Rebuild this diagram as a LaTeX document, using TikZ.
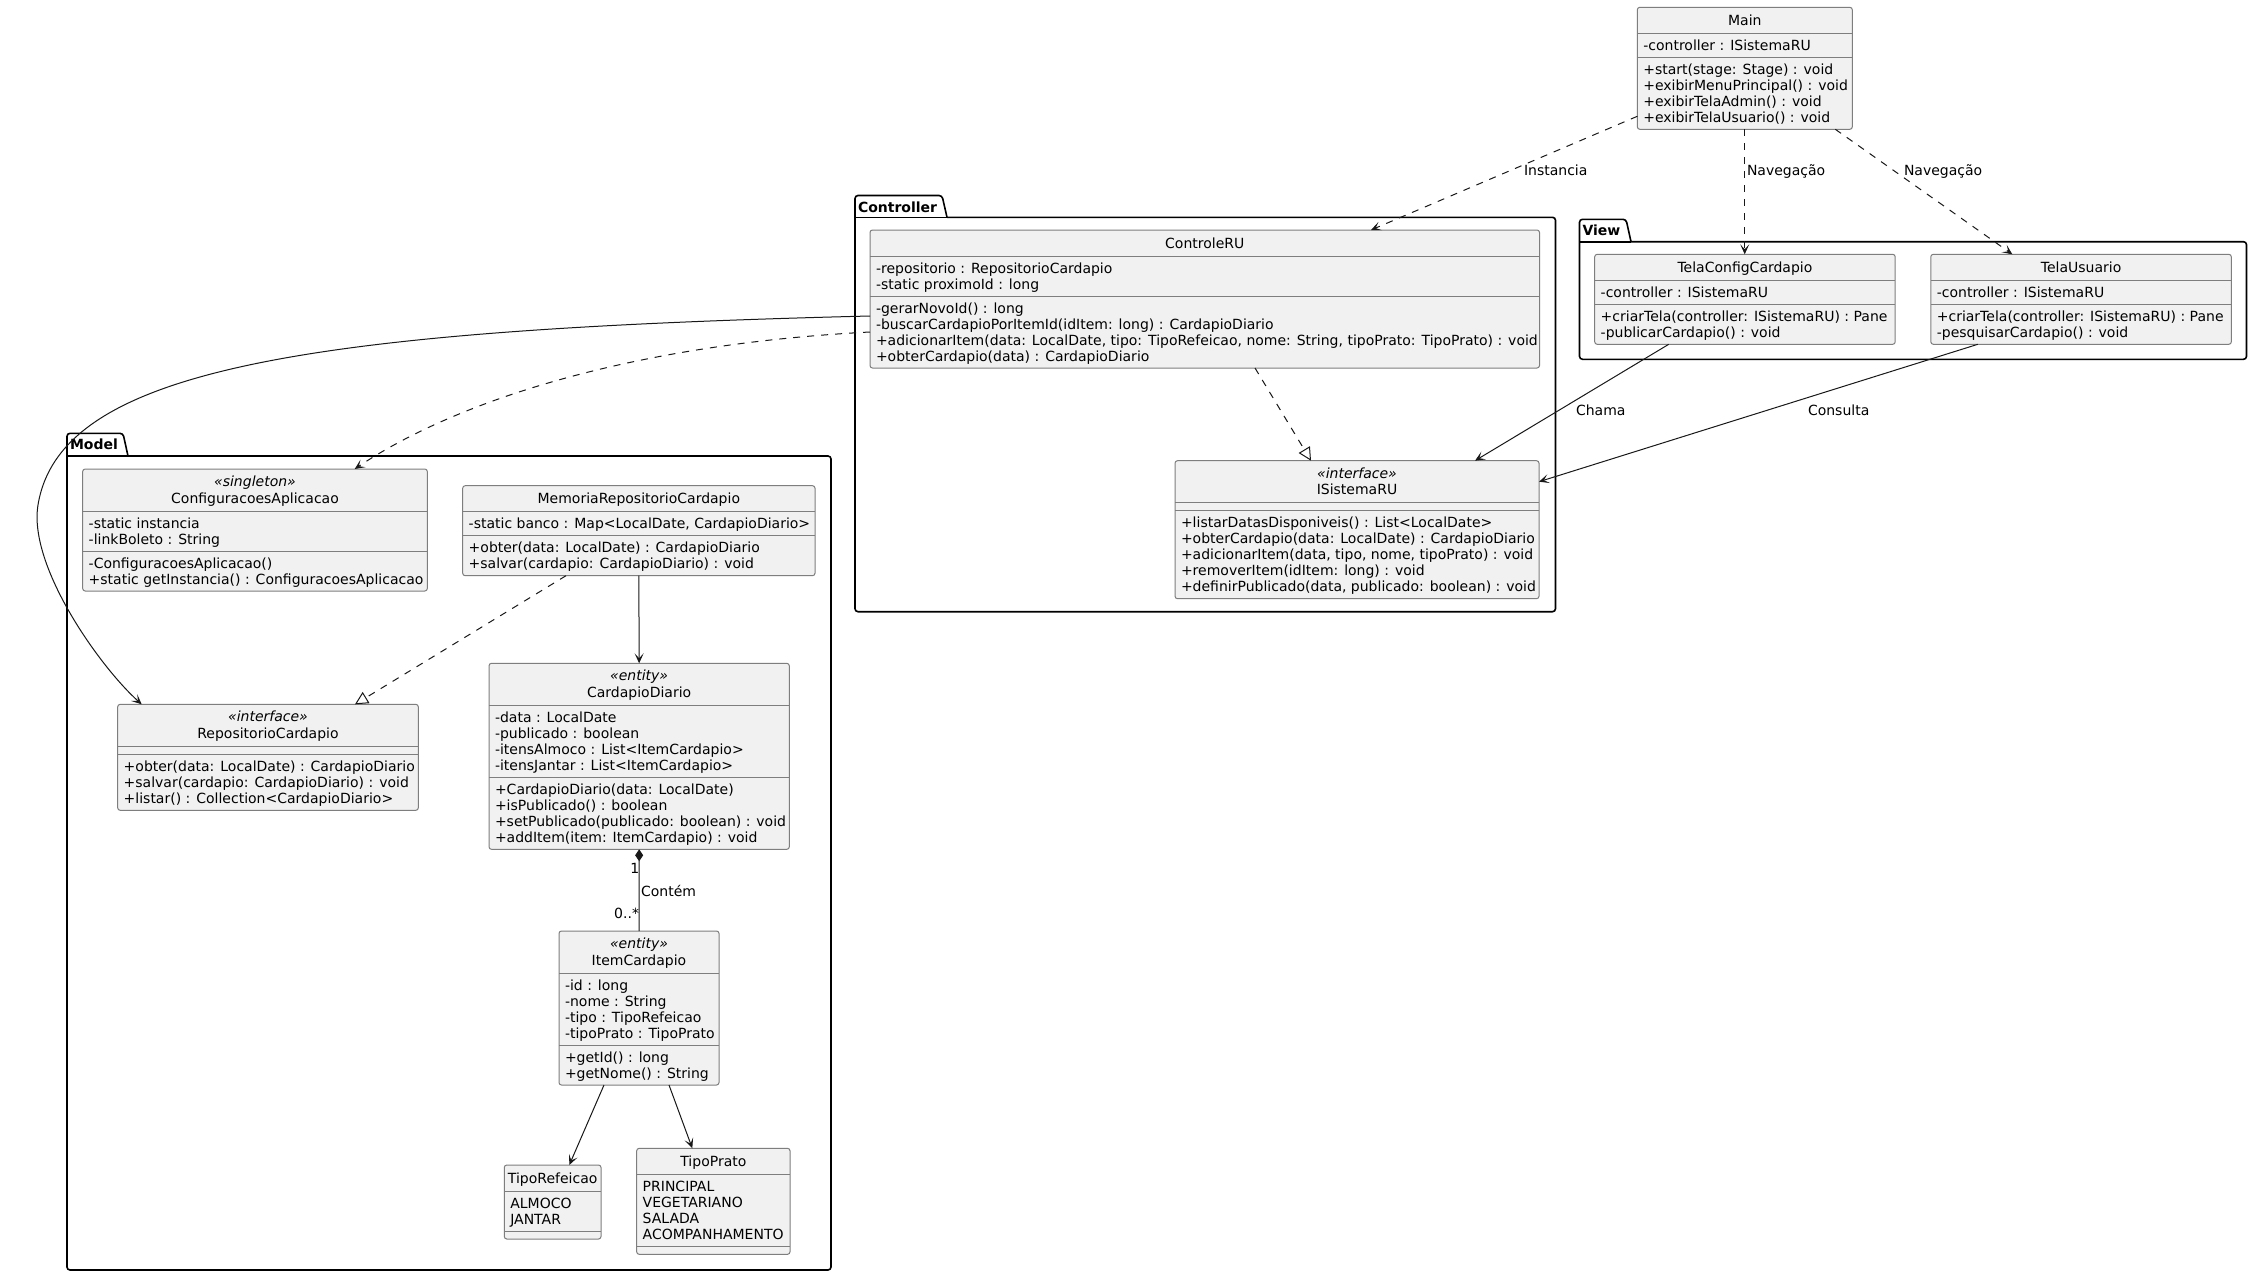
\documentclass[tikz,border=0pt]{standalone}
\usepackage{fontspec}
\setmainfont{DejaVu Sans}
\usetikzlibrary{arrows.meta,calc}

\definecolor{boxfill}{HTML}{F1F1F1}
\definecolor{boxline}{HTML}{7E7E7E}
\definecolor{conn}{HTML}{181818}

\newcommand\cntitems[2]{%
  \gdef#1{0}%
  \def\cnttmp{#2}%
  \ifx\cnttmp\empty\else
    \foreach \cntz in {#2}{\pgfmathtruncatemacro\cntq{#1+1}\global\let#1\cntq}%
  \fi}

% #1 name, #2 left, #3 right, #4 top, #5 stereotype, #6 title, #7 attributes, #8 methods
\newcommand\umlclass[8]{%
  \cntitems\nAttr{#7}%
  \cntitems\nMeth{#8}%
  \def\stmp{#5}%
  \ifx\stmp\empty\def\hTitle{26}\else\def\hTitle{42}\fi
  \pgfmathsetmacro\sepA{#4+\hTitle}%
  \pgfmathsetmacro\sepB{\sepA+16*\nAttr+8}%
  \pgfmathsetmacro\clsBot{\sepB+16*\nMeth+8}%
  \pgfmathsetmacro\clsW{#3-#2}%
  \pgfmathsetmacro\clsH{\clsBot-#4}%
  \pgfmathsetmacro\clsX{(#2+#3)/2}%
  \pgfmathsetmacro\clsY{(#4+\clsBot)/2}%
  \node[classbox, minimum width=\clsW pt, minimum height=\clsH pt] (#1) at (\clsX,\clsY) {};
  \draw[boxsep] (#2,\sepA) -- (#3,\sepA);
  \draw[boxsep] (#2,\sepB) -- (#3,\sepB);
  \ifx\stmp\empty
    \node[txt] (#1-title) at (\clsX,#4+13) {#6};
  \else
    \node[txt] (#1-stereo) at (\clsX,#4+12.5) {\itshape «#5»};
    \node[txt] (#1-title) at (\clsX,#4+29) {#6};
  \fi
  \ifnum\nAttr>0
    \foreach \clsitem [count=\ci] in {#7} {\node[txt,anchor=west] (#1-a\ci) at (#2+6,\sepA+12+16*\ci-16) {\clsitem};}
  \fi
  \ifnum\nMeth>0
    \foreach \clsitem [count=\ci] in {#8} {\node[txt,anchor=west] (#1-m\ci) at (#2+6,\sepB+12+16*\ci-16) {\clsitem};}
  \fi
}

% #1 name, #2 label, #3 left, #4 tab top, #5 body top, #6 right, #7 bottom, #8 tab right
\newcommand\umlpackage[8]{%
  \draw[pkg] (#8+5,#5) -- (#6,#5) -- (#6,#7) -- (#3,#7) -- (#3,#4) -- (#8,#4) -- (#8+5,#5);
  \draw[pkg, rounded corners=0pt] (#3,#5) -- (#8+5,#5);
  \node[txt, anchor=west, font=\fontsize{14pt}{16pt}\selectfont\bfseries] (#1) at (#3+3,#4+11.5) {#2};
}

\begin{document}
\begin{tikzpicture}[x=1pt,y=-1pt,
  txt/.style={inner sep=0pt, outer sep=0pt, text height=12pt, text depth=2pt, font=\fontsize{14pt}{16pt}\selectfont, text=black},
  classbox/.style={draw=boxline, fill=boxfill, line width=1pt, rounded corners=2.5pt, inner sep=0pt, outer sep=0pt},
  boxsep/.style={draw=boxline, line width=1pt},
  pkg/.style={draw=black, line width=1.6pt, rounded corners=3pt},
  assoc/.style={draw=conn, line width=1pt, -{Stealth[length=10pt,width=9pt,inset=5pt]}},
  dep/.style={assoc, dash pattern=on 7pt off 7pt},
  realize/.style={draw=conn, line width=1pt, dash pattern=on 7pt off 7pt, -{Triangle[open, length=13pt, width=13pt, fill=white]}},
  compose/.style={draw=conn, line width=1pt, {Diamond[length=12pt, width=8pt]}-}
]
\fill[white] (0,0) rectangle (2253,1277);
\useasboundingbox (0,0) rectangle (2253,1277);

% packages
\umlpackage{pkgController}{Controller}{855}{195.5}{217.3}{1555.5}{611.7}{942}
\umlpackage{pkgView}{View}{1579.5}{219.3}{241.7}{2246.5}{359.3}{1626}
\umlpackage{pkgModel}{Model}{67}{433.3}{456}{831}{1270}{123}

% classes
\umlclass{Main}{1637.3}{1852.3}{7.3}{}{Main}
  {{-controller : ISistemaRU}}
  {{+start(stage: Stage) : void},{+exibirMenuPrincipal() : void},{+exibirTelaAdmin() : void},{+exibirTelaUsuario() : void}}

\umlclass{ControleRU}{870}{1539.5}{230}{}{ControleRU}
  {{-repositorio : RepositorioCardapio},{-static proximoId : long}}
  {{-gerarNovoId() : long},{-buscarCardapioPorItemId(idItem: long) : CardapioDiario},{+adicionarItem(data: LocalDate, tipo: TipoRefeicao, nome: String, tipoPrato: TipoPrato) : void},{+obterCardapio(data) : CardapioDiario}}

\umlclass{ISistemaRU}{1175}{1539}{460.7}{interface}{ISistemaRU}
  {}
  {{+listarDatasDisponiveis() : List<LocalDate>},{+obterCardapio(data: LocalDate) : CardapioDiario},{+adicionarItem(data, tipo, nome, tipoPrato) : void},{+removerItem(idItem: long) : void},{+definirPublicado(data, publicado: boolean) : void}}

\umlclass{TelaConfigCardapio}{1594.7}{1895.2}{254.3}{}{TelaConfigCardapio}
  {{-controller : ISistemaRU}}
  {{+criarTela(controller: ISistemaRU) : Pane},{-publicarCardapio() : void}}

\umlclass{TelaUsuario}{1930.8}{2231.3}{254.3}{}{TelaUsuario}
  {{-controller : ISistemaRU}}
  {{+criarTela(controller: ISistemaRU) : Pane},{-pesquisarCardapio() : void}}

\umlclass{ConfiguracoesAplicacao}{82.7}{427.3}{469}{singleton}{ConfiguracoesAplicacao}
  {{-static instancia},{-linkBoleto : String}}
  {{-ConfiguracoesAplicacao()},{+static getInstancia() : ConfiguracoesAplicacao}}

\umlclass{MemoriaRepositorioCardapio}{462.7}{815}{485.7}{}{MemoriaRepositorioCardapio}
  {{-static banco : Map<LocalDate, CardapioDiario>}}
  {{+obter(data: LocalDate) : CardapioDiario},{+salvar(cardapio: CardapioDiario) : void}}

\umlclass{RepositorioCardapio}{117.7}{418.3}{704.3}{interface}{RepositorioCardapio}
  {}
  {{+obter(data: LocalDate) : CardapioDiario},{+salvar(cardapio: CardapioDiario) : void},{+listar() : Collection<CardapioDiario>}}

\umlclass{CardapioDiario}{489}{789.3}{663.3}{entity}{CardapioDiario}
  {{-data : LocalDate},{-publicado : boolean},{-itensAlmoco : List<ItemCardapio>},{-itensJantar : List<ItemCardapio>}}
  {{+CardapioDiario(data: LocalDate)},{+isPublicado() : boolean},{+setPublicado(publicado: boolean) : void},{+addItem(item: ItemCardapio) : void}}

\umlclass{ItemCardapio}{559}{719}{931}{entity}{ItemCardapio}
  {{-id : long},{-nome : String},{-tipo : TipoRefeicao},{-tipoPrato : TipoPrato}}
  {{+getId() : long},{+getNome() : String}}

\umlclass{TipoRefeicao}{504.3}{601}{1165}{}{TipoRefeicao}
  {{ALMOCO},{JANTAR}}
  {}

\umlclass{TipoPrato}{636.7}{790}{1148.3}{}{TipoPrato}
  {{PRINCIPAL},{VEGETARIANO},{SALADA},{ACOMPANHAMENTO}}
  {}

% connector end points
\coordinate (mainL) at ($(Main.north west)+(0,109)$);
\coordinate (ctrlTop) at ($(ControleRU.north west)+(501,0)$);
\coordinate (tcTop) at ($(TelaConfigCardapio.north west)+(150,0)$);
\coordinate (mainB2) at ($(Main.south west)+(198,0)$);
\coordinate (tuTop) at ($(TelaUsuario.north west)+(81.5,0)$);
\coordinate (ctrlBot) at ($(ControleRU.south west)+(385,0)$);
\coordinate (isTop1) at ($(ISistemaRU.north west)+(136,0)$);
\coordinate (tcBot) at ($(TelaConfigCardapio.south west)+(74,0)$);
\coordinate (isTop2) at ($(ISistemaRU.north west)+(300,0)$);
\coordinate (tuBot) at ($(TelaUsuario.south west)+(47,0)$);
\coordinate (isRight) at ($(ISistemaRU.north east)+(0,21)$);
\coordinate (ctrlL1) at ($(ControleRU.north west)+(0,86)$);
\coordinate (ctrlL2) at ($(ControleRU.north west)+(0,102)$);
\coordinate (repoTop1) at ($(RepositorioCardapio.north west)+(24,0)$);
\coordinate (repoTop2) at ($(RepositorioCardapio.north west)+(237.3,0)$);
\coordinate (cfgTop) at ($(ConfiguracoesAplicacao.north west)+(272,0)$);
\coordinate (memBot) at ($(MemoriaRepositorioCardapio.south west)+(103.3,0)$);
\coordinate (itemB1) at ($(ItemCardapio.south west)+(45,0)$);
\coordinate (itemB2) at ($(ItemCardapio.south west)+(110,0)$);
\coordinate (trTop) at ($(TipoRefeicao.north west)+(65,0)$);
\coordinate (tpTop) at ($(TipoPrato.north west)+(55.6,0)$);

% connectors
\draw[dep] (mainL) -- (ctrlTop);
\draw[dep] (tcTop |- Main.south) -- (tcTop);
\draw[dep] (mainB2) -- (tuTop);
\draw[realize] (ctrlBot) -- (isTop1);
\draw[assoc] (tcBot) -- (isTop2);
\draw[assoc] (tuBot) -- (isRight);
\draw[assoc] (ctrlL1) .. controls (300,330) and (60,370) .. (38,505) .. controls (28,566) and (100,667) .. (repoTop1);
\draw[dep] (ctrlL2) .. controls (620,345) and (450,405) .. (cfgTop);
\draw[realize] (memBot) -- (repoTop2);
\draw[assoc] (MemoriaRepositorioCardapio.south) -- (CardapioDiario.north);
\draw[compose] (CardapioDiario.south) -- (ItemCardapio.north);
\draw[assoc] (itemB1) -- (trTop);
\draw[assoc] (itemB2) -- (tpTop);

% connector labels
\node[txt, anchor=west] (lblInst) at (1524,170) {Instancia};
\node[txt, anchor=west] (lblNav1) at (1747,170) {Navegação};
\node[txt, anchor=west] (lblNav2) at (1904,170) {Navegação};
\node[txt, anchor=west] (lblChama) at (1576,410) {Chama};
\node[txt, anchor=west] (lblCons) at (1808,410) {Consulta};
\node[txt, anchor=east] (lblOne) at ($(CardapioDiario.south)+(0,19)$) {1};
\node[txt, anchor=west] (lblCont) at ($(CardapioDiario.south)+(2,42)$) {Contém};
\node[txt, anchor=east] (lblMany) at ($(ItemCardapio.north)+(0,-18)$) {0..*};
\end{tikzpicture}
\end{document}
